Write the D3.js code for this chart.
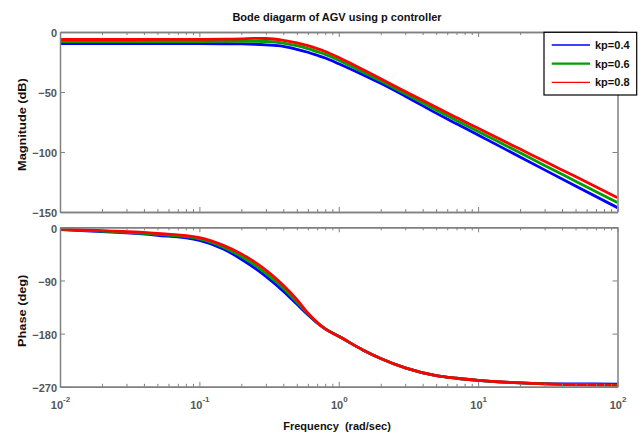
<!DOCTYPE html>
<html>
<head>
<meta charset="utf-8">
<script src="https://cdn.jsdelivr.net/npm/d3@7"></script>
<style>
  html, body { margin: 0; padding: 0; background: #fff; }
  svg { display: block; }
  text { font-family: "Liberation Sans", Arial, sans-serif; font-weight: bold; }
</style>
</head>
<body>
<svg id="chart" width="643" height="434"></svg>
<script>
// Frequency grid (rad/sec) shared by both panels
const freq = [0.01, 0.02, 0.05, 0.1, 0.15, 0.2, 0.25, 0.3, 0.4, 0.5, 0.6, 0.7, 0.8,
              1, 1.5, 2, 3, 5, 7, 10, 20, 30, 50, 100];

// Magnitude (dB) for each proportional gain
const magKp04 = [-9.75, -9.75, -9.75, -9.75, -9.8, -9.9, -10.2, -10.7, -11.9, -14.4, -16.9, -19.4, -21.7,
                 -26.5, -35.8, -42.8, -53.5, -67.6, -76.5, -85.8, -104.2, -114.9, -128.3, -146.4];
const magKp06 = [-7.9, -7.9, -7.9, -7.9, -7.85, -7.8, -7.7, -7.9, -9.2, -11.4, -13.9, -16.4, -18.6,
                 -23.5, -33.5, -40.8, -51.5, -65, -73.7, -82.9, -100.7, -111.2, -124.3, -142.1];
const magKp08 = [-6.25, -6.25, -6.2, -6.1, -6.0, -5.7, -5.3, -5.4, -6.9, -9.0, -11.4, -13.8, -16.2,
                 -21.3, -31.5, -39, -49.5, -62.8, -71.3, -80.2, -97.6, -107.8, -120.5, -138];

// Phase (deg) for each proportional gain
const phaseKp04 = [-4, -7.4, -13.5, -22, -37, -54, -69, -83, -108, -130, -148, -162, -172,
                   -184.5, -208, -222, -238, -251, -255.5, -259, -263.3, -264.5, -265, -265.5];
const phaseKp06 = [-3.4, -6.5, -12, -19.5, -34, -49.5, -64, -78, -103, -126.5, -146.5, -161.5, -172,
                   -184.5, -208, -222, -238, -251, -255.5, -259, -263.5, -265, -266, -267];
const phaseKp08 = [-2.9, -5.7, -10.4, -17.5, -31, -45, -59, -72.5, -98, -122, -145, -161, -172,
                   -184.5, -208, -222, -238, -251, -255.5, -259, -263.5, -265.2, -266.5, -268];

const seriesNames = ["kp=0.4", "kp=0.6", "kp=0.8"];
const magSeries = [magKp04, magKp06, magKp08];
const phaseSeries = [phaseKp04, phaseKp06, phaseKp08];

// Axis tick values
const magTicks = [0, -50, -100, -150];
const phaseTicks = [0, -90, -180, -270];
const freqDecades = [0.01, 0.1, 1, 10, 100];
const decadeExponents = ["-2", "-1", "0", "1", "2"];

const titleText = "Bode diagarm of AGV using p controller";
const magLabel = "Magnitude (dB)";
const phaseLabel = "Phase (deg)";
const freqLabel = "Frequency  (rad/sec)";

// Styling
const lineColors = ["#0000ff", "#00a000", "#ff0000"];
const legendWidths = [1.4, 2.4, 1.2];
const axisColor = "#808080";
const tickTextColor = "#555555";

const svg = d3.select("#chart");

const left = 60, right = 617.5;
const x = d3.scaleLog().domain([0.01, 100]).range([left, right]);
const yMag = d3.scaleLinear().domain([-150, 0]).range([212, 32]);
const yPhase = d3.scaleLinear().domain([-270, 0]).range([386.8, 227.3]);

const minorTicks = x.ticks().filter(v => !freqDecades.some(d => Math.abs(d - v) / d < 1e-9));

function styleAxis(g) {
  g.select(".domain").attr("stroke", axisColor).attr("stroke-width", 1.5);
  g.selectAll(".tick line").attr("stroke", axisColor).attr("stroke-width", 1);
  g.selectAll(".tick text")
    .attr("fill", tickTextColor)
    .attr("font-size", 11)
    .attr("font-family", "Liberation Sans, Arial, sans-serif")
    .attr("font-weight", "bold");
  g.attr("font-family", null).attr("font-size", null);
}

function drawPanel(y, yTicks, series, withXLabels, clipId) {
  const [yBot, yTop] = y.range();
  const panel = svg.append("g");

  svg.append("clipPath").attr("id", clipId)
    .append("rect").attr("x", left).attr("y", yTop)
    .attr("width", right - left).attr("height", yBot - yTop);

  // curves
  const line = d3.line()
    .x((d, i) => x(freq[i]))
    .y(d => y(d))
    .curve(d3.curveMonotoneX);
  const curves = panel.append("g").attr("clip-path", `url(#${clipId})`);
  series.forEach((vals, k) => {
    curves.append("path")
      .attr("d", line(vals))
      .attr("fill", "none")
      .attr("stroke", lineColors[k])
      .attr("stroke-width", 2.8)
      .attr("stroke-linejoin", "round");
  });

  // left / right axes
  panel.append("g").attr("transform", `translate(${left},0)`)
    .call(d3.axisLeft(y).tickValues(yTicks).tickSizeInner(-5).tickSizeOuter(0).tickPadding(3))
    .call(styleAxis)
    .selectAll(".tick text").attr("dy", "0.45em");
  panel.append("g").attr("transform", `translate(${right},0)`)
    .call(d3.axisRight(y).tickValues(yTicks).tickSizeInner(-5).tickSizeOuter(0).tickFormat(""))
    .call(styleAxis);

  // top / bottom axes with decade and minor ticks
  panel.append("g").attr("transform", `translate(0,${yTop})`)
    .call(d3.axisTop(x).tickValues(freqDecades).tickSizeInner(-5).tickSizeOuter(0).tickFormat(""))
    .call(styleAxis);
  panel.append("g").attr("transform", `translate(0,${yTop})`)
    .call(d3.axisTop(x).tickValues(minorTicks).tickSizeInner(-3).tickSizeOuter(0).tickFormat(""))
    .call(styleAxis);
  const bottomAxis = panel.append("g").attr("transform", `translate(0,${yBot})`)
    .call(d3.axisBottom(x).tickValues(freqDecades).tickSizeInner(-5).tickSizeOuter(0).tickFormat(""))
    .call(styleAxis);
  panel.append("g").attr("transform", `translate(0,${yBot})`)
    .call(d3.axisBottom(x).tickValues(minorTicks).tickSizeInner(-3).tickSizeOuter(0).tickFormat(""))
    .call(styleAxis);

  if (withXLabels) {
    bottomAxis.selectAll(".tick").each(function(d, i) {
      const t = d3.select(this).append("text")
        .attr("y", 22.5)
        .attr("text-anchor", "middle")
        .attr("fill", tickTextColor)
        .attr("font-size", 11)
        .attr("font-weight", "bold");
      t.append("tspan").text("10");
      t.append("tspan").attr("dy", -7).attr("font-size", 8).text(decadeExponents[i]);
    });
  }
}

drawPanel(yMag, magTicks, magSeries, false, "clipMag");
drawPanel(yPhase, phaseTicks, phaseSeries, true, "clipPhase");

// title and axis labels
svg.append("text").attr("x", 337).attr("y", 20.5)
  .attr("text-anchor", "middle").attr("font-size", 11).attr("fill", "#111")
  .text(titleText);

svg.append("text")
  .attr("transform", "translate(25.5,124.6) rotate(-90) scale(1.16,1)")
  .attr("text-anchor", "middle").attr("font-size", 11).attr("fill", "#111")
  .text(magLabel);
svg.append("text")
  .attr("transform", "translate(25.5,310.8) rotate(-90) scale(1.16,1)")
  .attr("text-anchor", "middle").attr("font-size", 11).attr("fill", "#111")
  .text(phaseLabel);

svg.append("text").attr("x", 337).attr("y", 429.5)
  .attr("text-anchor", "middle").attr("font-size", 11).attr("fill", "#111")
  .style("white-space", "pre")
  .text(freqLabel);

// legend
const legend = svg.append("g").attr("transform", "translate(544,32.3)");
legend.append("rect")
  .attr("width", 92.7).attr("height", 62.7)
  .attr("fill", "#fff").attr("stroke", "#000").attr("stroke-width", 1.2);
const rowY = d3.scalePoint().domain(seriesNames).range([12.7, 50]);
seriesNames.forEach((name, k) => {
  legend.append("line")
    .attr("x1", 7.7).attr("x2", 46)
    .attr("y1", rowY(name)).attr("y2", rowY(name))
    .attr("stroke", lineColors[k]).attr("stroke-width", legendWidths[k]);
  legend.append("text")
    .attr("x", 51).attr("y", rowY(name) + 4)
    .attr("font-size", 11).attr("fill", "#111")
    .text(name);
});
</script>
</body>
</html>
